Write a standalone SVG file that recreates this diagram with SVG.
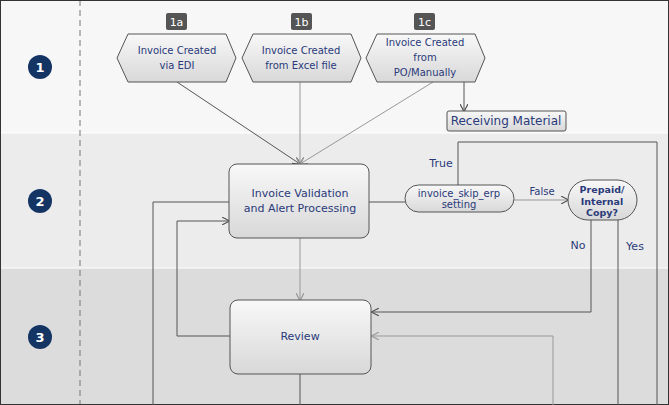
<svg xmlns="http://www.w3.org/2000/svg" width="669" height="405" viewBox="0 0 669 405">
<defs>
<linearGradient id="g" x1="0" y1="0" x2="0" y2="1"><stop offset="0" stop-color="#f8f8f8"/><stop offset="1" stop-color="#d8d8d8"/></linearGradient>
<marker id="a" viewBox="0 0 10 10" refX="9" refY="5" markerWidth="8" markerHeight="8" orient="auto" markerUnits="userSpaceOnUse"><path d="M0,0L10,5L0,10" fill="none" stroke="#555" stroke-width="1.5"/></marker>
<marker id="b" viewBox="0 0 10 10" refX="9" refY="5" markerWidth="8" markerHeight="8" orient="auto" markerUnits="userSpaceOnUse"><path d="M0,0L10,5L0,10" fill="none" stroke="#999" stroke-width="1.5"/></marker>
</defs>
<style>
.n{fill:url(#g);stroke:#555;stroke-width:1}
.t{font-family:Verdana,"DejaVu Sans",sans-serif;font-size:10px;fill:#2a3a7a;text-anchor:middle}
.lb{font-size:11px}
.c{stroke:#555;fill:none;stroke-width:1}
.l{stroke:#999;fill:none;stroke-width:1}
.badge{fill:#555}
.bt{font-family:"DejaVu Sans",sans-serif;font-size:11px;fill:#fff;text-anchor:middle}
.num{fill:#143464}
.nt{font-family:"DejaVu Sans",sans-serif;font-size:13px;font-weight:bold;fill:#fff;text-anchor:middle}
</style>
<rect x="0" y="0" width="669" height="133" fill="#f7f7f7"/>
<rect x="0" y="133" width="669" height="135" fill="#ececec"/>
<rect x="0" y="268" width="669" height="137" fill="#dcdcdc"/>
<line x1="0" y1="133" x2="669" y2="133" stroke="#fff"/>
<line x1="0" y1="268" x2="669" y2="268" stroke="#fff"/>
<line x1="80" y1="0" x2="80" y2="405" stroke="#777" stroke-dasharray="6,4"/>
<rect x="0.5" y="0.5" width="668" height="404" fill="none" stroke="#333"/>
<g id="lane1"><circle class="num" cx="40" cy="67" r="12"/><text class="nt" x="40" y="72">1</text></g>
<g id="lane2"><circle class="num" cx="40" cy="201" r="12"/><text class="nt" x="40" y="206">2</text></g>
<g id="lane3"><circle class="num" cx="40" cy="337" r="12"/><text class="nt" x="40" y="342">3</text></g>
<g id="connectors">
<line class="c" x1="177" y1="82" x2="300" y2="164" marker-end="url(#a)"/>
<line class="l" x1="300" y1="82" x2="300" y2="164" marker-end="url(#b)"/>
<line class="l" x1="433" y1="82" x2="300" y2="164" marker-end="url(#b)"/>
<line class="c" x1="464" y1="82" x2="464" y2="111" marker-end="url(#a)"/>
<line class="c" x1="369" y1="202" x2="405" y2="202"/>
<polyline class="c" points="229,202 153,202 153,405"/>
<line class="l" x1="514" y1="200" x2="568" y2="200" marker-end="url(#a)"/>
<polyline class="c" points="458,186 458,142 657,142 657,405"/>
<line class="l" x1="300" y1="238" x2="300" y2="300" marker-end="url(#b)"/>
<polyline class="c" points="230,336 177,336 177,221 229,221" marker-end="url(#a)"/>
<polyline class="c" points="591,220 591,312 372,312" marker-end="url(#a)"/>
<line class="c" x1="618" y1="220" x2="618" y2="405"/>
<polyline class="l" points="553,405 553,336 372,336" marker-end="url(#b)"/>
<line class="c" x1="300" y1="374" x2="300" y2="405"/>
<text class="t lb" x="441" y="167">True</text>
<text class="t" x="542" y="195">False</text>
<text class="t lb" x="578" y="249">No</text>
<text class="t lb" x="635" y="250">Yes</text>
</g>
<g id="n1a"><rect class="badge" x="166" y="13" width="21" height="17" rx="2"/><text class="bt" x="176.5" y="26">1a</text>
<polygon class="n" points="128,34 226,34 236,58 226,82 128,82 117,58"/><text class="t" x="177" y="54">Invoice Created</text><text class="t" x="177" y="69">via EDI</text></g>
<g id="n1b"><rect class="badge" x="291" y="13" width="21" height="17" rx="2"/><text class="bt" x="301.5" y="26">1b</text>
<polygon class="n" points="253,34 351,34 361,58 351,82 253,82 242,58"/><text class="t" x="301" y="54">Invoice Created</text><text class="t" x="301" y="69">from  Excel file</text></g>
<g id="n1c"><rect class="badge" x="414" y="13" width="21" height="17" rx="2"/><text class="bt" x="424.5" y="26">1c</text>
<polygon class="n" points="377,34 475,34 485,58 475,82 377,82 366,58"/><text class="t" x="425" y="46">Invoice Created</text><text class="t" x="425" y="61">from</text><text class="t" x="425" y="76">PO/Manually</text></g>
<g id="recv"><rect class="n" x="447" y="111" width="119" height="20" rx="2"/><text class="t" x="506" y="125" style="font-size:12px">Receiving Material</text></g>
<g id="valid"><rect class="n" x="229" y="164" width="140" height="74" rx="8"/><text class="t" x="300" y="197" style="font-size:11px">Invoice Validation</text><text class="t" x="300" y="212" style="font-size:11px">and Alert Processing</text></g>
<g id="skip"><rect class="n" x="405" y="185" width="109" height="27" rx="13.5"/><text class="t" x="459" y="197">invoice_skip_erp</text><text class="t" x="459" y="208">setting</text></g>
<g id="prepaid"><rect class="n" x="568" y="180" width="69" height="40" rx="20"/><text class="t" x="602" y="193" style="font-weight:bold;font-size:9.5px">Prepaid/</text><text class="t" x="602" y="205" style="font-weight:bold;font-size:9.5px">Internal</text><text class="t" x="602" y="216" style="font-weight:bold;font-size:9.5px">Copy?</text></g>
<g id="review"><rect class="n" x="230" y="300" width="141" height="74" rx="8"/><text class="t" x="300" y="340" style="font-size:11px">Review</text></g>
</svg>
